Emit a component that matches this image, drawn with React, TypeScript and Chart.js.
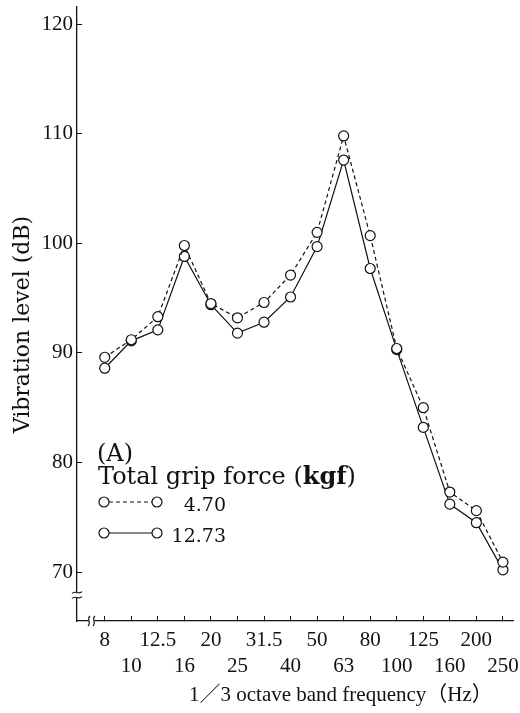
import React, { useEffect, useRef } from 'react';
import { Chart, registerables } from 'chart.js';

Chart.register(...registerables);

// ---- data ----
const FREQ_LABELS = ['8', '10', '12.5', '16', '20', '25', '31.5', '40', '50', '63', '80', '100', '125', '160', '200', '250'];
const GRIP_470 = [89.6, 91.2, 93.3, 99.8, 94.5, 93.2, 94.6, 97.1, 101.0, 109.8, 100.7, 90.4, 85.0, 77.3, 75.6, 70.9];
const GRIP_1273 = [88.6, 91.1, 92.1, 98.8, 94.4, 91.8, 92.8, 95.1, 99.7, 107.6, 97.7, 90.3, 83.2, 76.2, 74.5, 70.2];
const SERIES_LABELS = ['4.70', '12.73'];
const Y_TICKS = [70, 80, 90, 100, 110, 120];

const SERIF = "'Liberation Serif', 'Times New Roman', 'Noto Sans CJK JP', serif";
const WIDE_SERIF = "'DejaVu Serif', 'Liberation Serif', 'Noto Sans CJK JP', serif";
const INK = '#111111';

const legendPlugin = {
  id: 'gripLegend',
  afterDraw(chart: any) {
    const ctx = chart.ctx as CanvasRenderingContext2D;
    ctx.save();
    ctx.fillStyle = INK;
    ctx.textBaseline = 'middle';
    ctx.textAlign = 'left';
    ctx.font = `24px ${WIDE_SERIF}`;
    ctx.fillText('(A)', 97, 455);
    const t1 = 'Total grip force (';
    ctx.fillText(t1, 98, 478);
    let w = ctx.measureText(t1).width;
    ctx.font = `bold 24px ${WIDE_SERIF}`;
    ctx.fillText('kgf', 98 + w, 478);
    w += ctx.measureText('kgf').width;
    ctx.font = `24px ${WIDE_SERIF}`;
    ctx.fillText(')', 98 + w, 478);

    const rows = [502, 533];
    chart.data.datasets.forEach((ds: any, i: number) => {
      const cy = rows[i];
      const x1 = 104, x2 = 157, r = 5;
      ctx.strokeStyle = INK;
      ctx.lineWidth = 1.2;
      ctx.setLineDash(ds.borderDash || []);
      ctx.beginPath();
      ctx.moveTo(x1 + r, cy);
      ctx.lineTo(x2 - r, cy);
      ctx.stroke();
      ctx.setLineDash([]);
      for (const cx of [x1, x2]) {
        ctx.beginPath();
        ctx.arc(cx, cy, r, 0, Math.PI * 2);
        ctx.fillStyle = '#ffffff';
        ctx.fill();
        ctx.stroke();
      }
      ctx.fillStyle = INK;
      ctx.textAlign = 'right';
      ctx.font = `19px ${WIDE_SERIF}`;
      ctx.fillText(ds.label, 226, cy + 4);
    });
    ctx.restore();
  },
};

const breaksPlugin = {
  id: 'axisBreaks',
  afterDraw(chart: any) {
    const ctx = chart.ctx as CanvasRenderingContext2D;
    const xs = chart.scales.x;
    const ys = chart.scales.y;
    ctx.save();
    ctx.lineWidth = 1.1;
    ctx.strokeStyle = INK;
    // y-axis break
    const ax = chart.chartArea.left;
    const by = ys.getPixelForValue(67.9);
    ctx.fillStyle = '#ffffff';
    ctx.fillRect(ax - 2, by - 3, 4, 6);
    for (const dy of [-2.5, 2.5]) {
      ctx.beginPath();
      ctx.moveTo(ax - 5, by + dy + 1);
      ctx.bezierCurveTo(ax - 2, by + dy - 3, ax + 2, by + dy + 3, ax + 5, by + dy - 1);
      ctx.stroke();
    }
    // x-axis break
    const bx = xs.getPixelForValue(-0.5);
    const ay = chart.chartArea.bottom;
    ctx.fillRect(bx - 3, ay - 2, 6, 4);
    for (const dx of [-2.5, 2.5]) {
      ctx.beginPath();
      ctx.moveTo(bx + dx - 1, ay + 5);
      ctx.bezierCurveTo(bx + dx + 3, ay + 2, bx + dx - 3, ay - 2, bx + dx + 1, ay - 5);
      ctx.stroke();
    }
    ctx.restore();
  },
};

export default function App() {
  const ref = useRef<HTMLCanvasElement | null>(null);

  useEffect(() => {
    if (!ref.current) return;
    const toPts = (arr: number[]) => arr.map((v, i) => ({ x: i, y: v }));
    const pointStyle = {
      pointRadius: 5,
      pointHoverRadius: 5,
      pointBackgroundColor: '#ffffff',
      pointBorderColor: INK,
      pointBorderWidth: 1.2,
      borderColor: INK,
      borderWidth: 1.2,
      tension: 0,
      fill: false,
    };
    const chart = new Chart(ref.current, {
      type: 'line',
      data: {
        datasets: [
          { label: SERIES_LABELS[0], data: toPts(GRIP_470), borderDash: [4, 3], ...pointStyle },
          { label: SERIES_LABELS[1], data: toPts(GRIP_1273), ...pointStyle },
        ],
      },
      plugins: [legendPlugin, breaksPlugin],
      options: {
        animation: false,
        responsive: false,
        devicePixelRatio: 1,
        layout: { padding: { top: 6, right: 2, left: 0, bottom: 0 } },
        plugins: { legend: { display: false }, tooltip: { enabled: false } },
        scales: {
          x: {
            type: 'linear',
            min: -1.045,
            max: 15.41,
            afterBuildTicks: (axis: any) => {
              axis.ticks = FREQ_LABELS.map((_, i) => ({ value: i }));
            },
            afterFit: (axis: any) => {
              axis.height = 92;
              axis.paddingLeft = 0;
              axis.paddingRight = 0;
            },
            ticks: {
              autoSkip: false,
              maxRotation: 0,
              minRotation: 0,
              padding: 11,
              color: INK,
              font: { family: SERIF, size: 21, lineHeight: '26px' } as any,
              callback: (v: any) => {
                const i = Math.round(Number(v));
                const lab = FREQ_LABELS[i] ?? '';
                return i % 2 === 0 ? [lab, ''] : ['', lab];
              },
            },
            grid: { display: true, drawOnChartArea: false, drawTicks: true, tickLength: -5, color: INK, lineWidth: 1 },
            border: { display: true, color: INK, width: 1.3 },
            title: {
              display: true,
              align: 'end',
              text: '1／3 octave band frequency（Hz）　  ',
              color: INK,
              font: { family: SERIF, size: 21 },
              padding: { top: 0, bottom: 5 },
            },
          },
          y: {
            type: 'linear',
            min: 65.53,
            max: 121.64,
            afterBuildTicks: (axis: any) => {
              axis.ticks = Y_TICKS.map((v) => ({ value: v }));
            },
            afterFit: (axis: any) => {
              axis.width = 77;
              axis.paddingTop = 0;
              axis.paddingBottom = 0;
            },
            ticks: {
              padding: 9,
              color: INK,
              font: { family: SERIF, size: 21 },
              callback: (v: any) => String(v),
            },
            grid: { display: true, drawOnChartArea: false, drawTicks: true, tickLength: -5, color: INK, lineWidth: 1 },
            border: { display: true, color: INK, width: 1.3 },
            title: {
              display: true,
              text: 'Vibration level (dB)　',
              color: INK,
              font: { family: WIDE_SERIF, size: 22 },
              padding: { top: 10, bottom: 0 },
            },
          },
        },
      },
    } as any);
    return () => chart.destroy();
  }, []);

  return (
    <div style={{ position: 'absolute', left: 0, top: 0, width: 520, height: 713, background: '#fff' }}>
      <canvas ref={ref} width={520} height={713} style={{ width: 520, height: 713, display: 'block' }} />
    </div>
  );
}
